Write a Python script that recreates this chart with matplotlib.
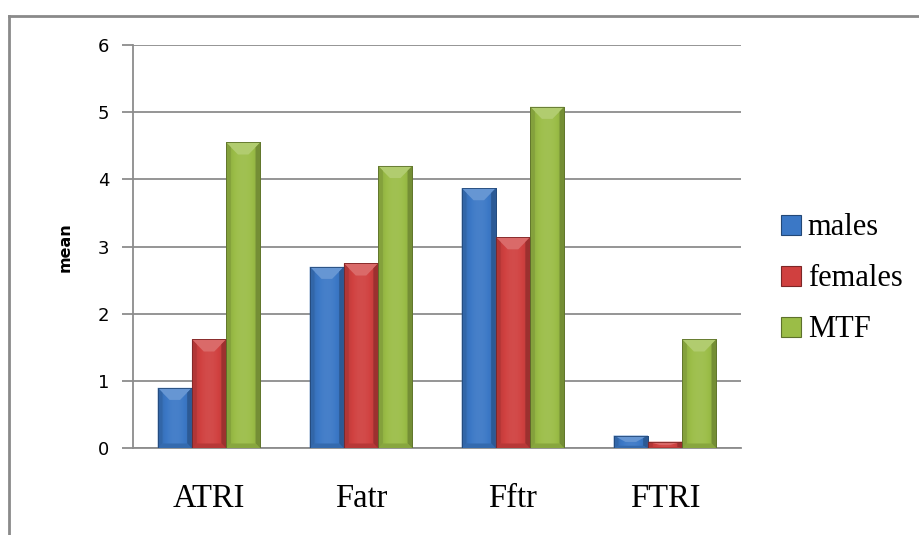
import numpy as np
import matplotlib
matplotlib.use("Agg")
import matplotlib.pyplot as plt
from matplotlib.patches import Rectangle, Polygon
from matplotlib.lines import Line2D
from matplotlib.colors import to_rgb

# data
categories = ["ATRI", "Fatr", "Fftr", "FTRI"]
males = [0.90, 2.70, 3.87, 0.19]
females = [1.62, 2.75, 3.14, 0.10]
mtf = [4.55, 4.20, 5.08, 1.62]
series_names = ["males", "females", "MTF"]
series_colors = ["#3b78c6", "#d0403f", "#9bbd47"]

SERIF = "Liberation Serif"
GRID = "#8c8c8c"


def shade(color, k):
    c = np.array(to_rgb(color))
    if k >= 0:
        return tuple(c + (1 - c) * k)
    return tuple(c * (1 + k))


def bevel_bar(ax, x0, w, h, color, bx=0.078, by=0.18):
    # body with a soft horizontal gradient
    body = Rectangle((x0, 0), w, h, facecolor=color, edgecolor="none", zorder=3)
    ax.add_patch(body)
    t = np.linspace(0, 1, 64)
    prof = 0.06 - 0.22 * (2 * t - 1) ** 2
    rgb = np.array([shade(color, k) for k in prof])[None, :, :]
    im = ax.imshow(rgb, extent=(x0, x0 + w, 0, h), aspect="auto",
                   zorder=3, interpolation="bilinear")
    im.set_clip_path(body)
    by = min(by, h / 2)
    bx = min(bx, w / 2)
    # bevel: lighter top face, slightly darker sides and bottom
    ax.add_patch(Polygon([(x0, h), (x0 + w, h), (x0 + w - bx, h - by), (x0 + bx, h - by)],
                         closed=True, facecolor=shade(color, 0.22), edgecolor="none", zorder=4))
    ax.add_patch(Polygon([(x0, 0), (x0, h), (x0 + bx * 0.4, h - by * 0.4), (x0 + bx * 0.4, by * 0.4)],
                         closed=True, facecolor=shade(color, -0.15), edgecolor="none", zorder=4))
    ax.add_patch(Polygon([(x0 + w, 0), (x0 + w, h), (x0 + w - bx * 0.4, h - by * 0.4),
                          (x0 + w - bx * 0.4, by * 0.4)],
                         closed=True, facecolor=shade(color, -0.25), edgecolor="none", zorder=4))
    ax.add_patch(Polygon([(x0, 0), (x0 + w, 0), (x0 + w - bx * 0.4, by * 0.4), (x0 + bx * 0.4, by * 0.4)],
                         closed=True, facecolor=shade(color, -0.12), edgecolor="none", zorder=4))
    ax.add_patch(Rectangle((x0, 0), w, h, facecolor="none",
                           edgecolor=shade(color, -0.4), linewidth=0.6, zorder=5))


fig = plt.figure(figsize=(9.2, 5.35), dpi=100)
ax = fig.add_axes([0.1446, 0.162, 0.6608, 0.754])

x = np.arange(len(categories))
bw = 0.225
for s, vals in enumerate([males, females, mtf]):
    for i, v in enumerate(vals):
        bevel_bar(ax, x[i] + (s - 1.5) * bw, bw, v, series_colors[s])

ax.set_xlim(-0.5, len(categories) - 0.5)
ax.set_ylim(0, 6)
ax.set_yticks(range(7))
ax.yaxis.grid(True, color=GRID, linewidth=1.3, zorder=0)
ax.set_axisbelow(True)
for side in ["top", "right"]:
    ax.spines[side].set_visible(False)
for side in ["left", "bottom"]:
    ax.spines[side].set_color(GRID)
    ax.spines[side].set_linewidth(1.3)
ax.tick_params(axis="y", length=8, width=1.3, color=GRID, pad=9, labelsize=13)
ax.tick_params(axis="x", length=0, pad=25)
ax.set_xticks(x)
ax.set_xticklabels(categories, fontsize=23.5, family=SERIF)
ax.set_ylabel("mean", fontsize=11.5, fontweight="bold", labelpad=18)

# legend
handles = [Line2D([], [], marker="s", linestyle="none", markersize=14,
                  markerfacecolor=c, markeredgecolor=shade(c, -0.4), markeredgewidth=0.8)
           for c in series_colors]
ax.legend(handles, series_names, loc="center left", bbox_to_anchor=(1.037, 0.42),
          frameon=False, prop={"family": SERIF, "size": 22}, borderpad=0,
          handlelength=0.8, handletextpad=0.15, labelspacing=0.72)

# outer chart border (top and left edges)
fig.add_artist(Line2D([9 / 920, 9 / 920], [0, 1 - 16 / 535], transform=fig.transFigure,
                      color="#8a8a8a", linewidth=2))
fig.add_artist(Line2D([9 / 920, 1], [1 - 16 / 535, 1 - 16 / 535], transform=fig.transFigure,
                      color="#8a8a8a", linewidth=2))

fig.savefig("out.png", dpi=100)
